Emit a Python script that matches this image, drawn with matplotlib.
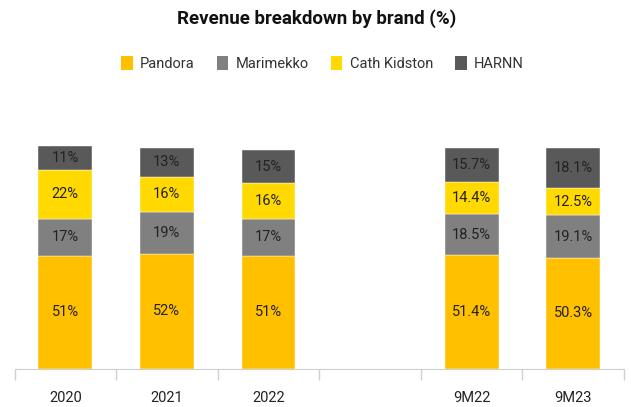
import numpy as np
import matplotlib
matplotlib.use("Agg")
import matplotlib.pyplot as plt
from matplotlib.patches import Patch

# data
categories = ["2020", "2021", "2022", "", "9M22", "9M23"]
pandora = [51, 52, 51, np.nan, 51.4, 50.3]
marimekko = [17, 19, 17, np.nan, 18.5, 19.1]
cath_kidston = [22, 16, 16, np.nan, 14.4, 12.5]
harnn = [11, 13, 15, np.nan, 15.7, 18.1]

brands = ["Pandora", "Marimekko", "Cath Kidston", "HARNN"]
colors = ["#FFC000", "#808080", "#FFD900", "#595959"]
series = [pandora, marimekko, cath_kidston, harnn]

plt.rcParams['font.family'] = ['Roboto', 'DejaVu Sans']

fig = plt.figure(figsize=(6.31, 4.07), dpi=100)
ax = fig.add_axes([0.023, 0.094, 0.966, 0.570])

x = np.arange(len(categories))
bottom = np.zeros(len(categories))
for vals, col in zip(series, colors):
    vals = np.array(vals, dtype=float)
    ax.bar(x, vals, bottom=bottom, width=0.53, color=col, edgecolor="white", linewidth=0.3)
    for xi, v, b in zip(x, vals, bottom):
        if np.isnan(v):
            continue
        ax.text(xi, b + v / 2, f"{v:g}%", ha="center", va="center",
                fontsize=10.5, color="#222222")
    bottom = bottom + np.nan_to_num(vals)

ax.set_xlim(-0.5, len(categories) - 0.5)
ax.set_ylim(0, 105)
ax.set_yticks([])
ax.set_xticks(x)
ax.set_xticklabels(categories, fontsize=10.5, color="#222222")
ax.set_xticks(np.arange(-0.5, len(categories)), minor=True)
ax.tick_params(axis="x", which="major", length=0, pad=16)
ax.tick_params(axis="x", which="minor", length=8, color="#d0d0d0", width=1)
for s in ["top", "right", "left"]:
    ax.spines[s].set_visible(False)
ax.spines["bottom"].set_color("#d0d0d0")

fig.text(0.501, 0.955, "Revenue breakdown by brand (%)", ha="center", va="center",
         fontsize=13.5, fontweight="bold", color="#111111")

handles = [Patch(facecolor=c, edgecolor="none") for c in colors]
fig.legend(handles, brands, loc="center", bbox_to_anchor=(0.511, 0.845), ncol=4,
           frameon=False, fontsize=10.5, handlelength=0.8, handleheight=1.1,
           handletextpad=0.5, columnspacing=1.5, labelcolor="#333333")

fig.savefig("out.png", dpi=100)
